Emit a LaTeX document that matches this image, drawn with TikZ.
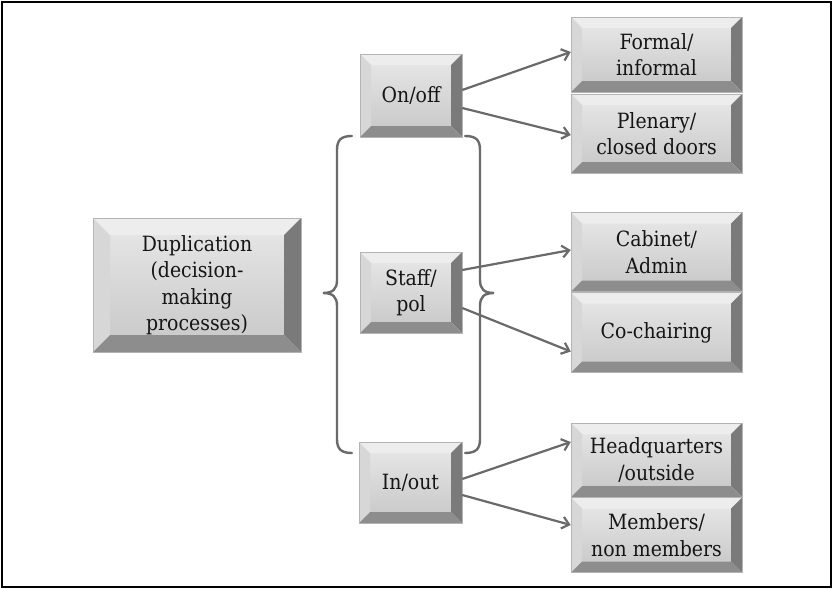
\documentclass[tikz,border=0pt]{standalone}
\usepackage{fontspec}
\setmainfont{DejaVu Serif Condensed}
\usetikzlibrary{arrows.meta}

\definecolor{facetop}{HTML}{E4E4E4}
\definecolor{facebot}{HTML}{CBCBCB}
\definecolor{beveltop}{HTML}{EDEDED}
\definecolor{bevelleft}{HTML}{D7D7D7}
\definecolor{bevelright}{HTML}{7A7A7A}
\definecolor{bevelbottom}{HTML}{8D8D8D}
\definecolor{boxedge}{HTML}{B4B4B4}
\definecolor{linkgray}{HTML}{6A6A6A}
\definecolor{inkgray}{HTML}{151515}

% Four bevel faces around a shaded face, filling the node's outline
\newcommand\bevelfaces[1]{%
  \coordinate (o1) at (path picture bounding box.north west);
  \coordinate (o2) at (path picture bounding box.north east);
  \coordinate (o3) at (path picture bounding box.south east);
  \coordinate (o4) at (path picture bounding box.south west);
  \coordinate (i1) at ([shift={(#1,-#1)}]o1);
  \coordinate (i2) at ([shift={(-#1,-#1)}]o2);
  \coordinate (i3) at ([shift={(-#1,#1)}]o3);
  \coordinate (i4) at ([shift={(#1,#1)}]o4);
  \shade[top color=facetop, bottom color=facebot] (i1) rectangle (i3);
  \fill[beveltop] (o1) -- (o2) -- (i2) -- (i1) -- cycle;
  \fill[bevelleft] (o1) -- (i1) -- (i4) -- (o4) -- cycle;
  \fill[bevelright] (o2) -- (o3) -- (i3) -- (i2) -- cycle;
  \fill[bevelbottom] (o4) -- (i4) -- (i3) -- (o3) -- cycle;
}

\tikzset{
  box/.style={rectangle, inner sep=0pt, draw=boxedge, line width=0.5pt,
    align=center, text=inkgray, font=\fontsize{21}{26.5}\selectfont},
  smallbevel/.style={box, path picture={\bevelfaces{11pt}}},
  bigbevel/.style={box, path picture={\bevelfaces{17pt}}},
  link/.style={draw=linkgray, line width=2.2pt,
    -{Straight Barb[length=7pt,width=12pt]}},
  brace/.style={draw=linkgray, line width=2.4pt, line cap=round},
  frame/.style={draw=black, line width=2.5pt}
}

\begin{document}
\begin{tikzpicture}[x=1pt, y=-1pt]
  \useasboundingbox (0,0) rectangle (833,589);
  \draw[frame] (2,2) rectangle (831,587);

  % root
  \node[bigbevel, minimum width=208pt, minimum height=134pt] (dup) at (197,285)
    {Duplication\\(decision-\\making\\processes)};

  % middle column
  \node[smallbevel, minimum width=102pt, minimum height=83pt] (onoff) at (411,95.5) {On/off};
  \node[smallbevel, minimum width=102pt, minimum height=81pt] (staff) at (411,292.5) {Staff/\\pol};
  \node[smallbevel, minimum width=103pt, minimum height=81pt] (inout) at (410.5,482.5) {In/out};

  % right column
  \node[smallbevel, minimum width=171pt, minimum height=75pt] (formal) at (656.5,54.5) {Formal/\\informal};
  \node[smallbevel, minimum width=171pt, minimum height=79pt] (plenary) at (656.5,133.5) {Plenary/\\closed doors};
  \node[smallbevel, minimum width=171pt, minimum height=79pt] (cabinet) at (656.5,252) {Cabinet/\\Admin};
  \node[smallbevel, minimum width=171pt, minimum height=80pt] (cochair) at (656.5,332.5) {Co-chairing};
  \node[smallbevel, minimum width=171pt, minimum height=74pt] (hq) at (656.5,460) {Headquarters\\/outside};
  \node[smallbevel, minimum width=171pt, minimum height=75pt] (members) at (656.5,535) {Members/\\non members};

  % braces around the middle column
  \draw[brace] (352,136) .. controls (341,136) and (337,140) .. (337,150)
    -- (337,280) .. controls (337,289) and (333,293) .. (323,293)
    .. controls (333,293) and (337,297) .. (337,306)
    -- (337,439) .. controls (337,449) and (341,453) .. (352,453);
  \draw[brace] (465,136) .. controls (476,136) and (480,140) .. (480,150)
    -- (480,280) .. controls (480,289) and (484,293) .. (494,293)
    .. controls (484,293) and (480,297) .. (480,306)
    -- (480,439) .. controls (480,449) and (476,453) .. (465,453);

  % connectors
  \draw[link] ([yshift=5.5pt]onoff.east) -- ([yshift=2.5pt]formal.west);
  \draw[link] ([yshift=-12.5pt]onoff.east) -- ([yshift=-1.5pt]plenary.west);
  \draw[link] ([yshift=22.5pt]staff.east) -- ([yshift=2pt]cabinet.west);
  \draw[link] ([yshift=-15.5pt]staff.east) -- ([yshift=-19pt]cochair.west);
  \draw[link] ([yshift=3.5pt]inout.east) -- ([yshift=18pt]hq.west);
  \draw[link] ([yshift=-12.5pt]inout.east) -- ([yshift=10pt]members.west);
\end{tikzpicture}
\end{document}
